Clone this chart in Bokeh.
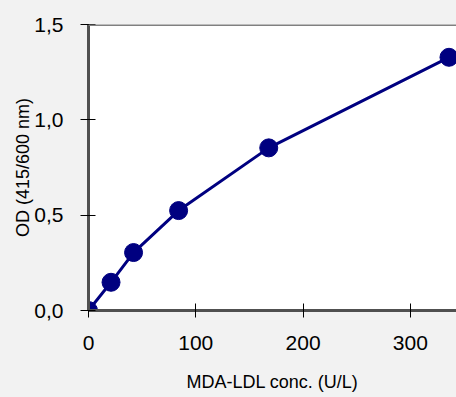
from bokeh.plotting import figure
from bokeh.models import FixedTicker, CustomJSTickFormatter, Span, Range1d
from bokeh.embed import file_html
from bokeh.resources import INLINE

conc = [0, 21, 42, 84, 168, 336]
od = [0.0, 0.148, 0.304, 0.524, 0.853, 1.328]
x_ticks = [0, 100, 200, 300]
y_ticks = [0.0, 0.5, 1.0, 1.5]

BG = "#f2f2f2"
NAVY = "#000080"

p = figure(width=456, height=397, output_backend="svg", toolbar_location=None,
           x_range=Range1d(0, 343), y_range=Range1d(0, 1.5),
           min_border_left=88, min_border_right=0, min_border_top=24, min_border_bottom=87)
p.border_fill_color = BG
p.background_fill_color = "white"
p.outline_line_color = None
p.grid.visible = False

p.line(conc, od, line_color=NAVY, line_width=3)
p.scatter(conc, od, size=18, fill_color=NAVY, line_color=NAVY)

p.add_layout(Span(location=1.5, dimension="width", line_color="#808080", line_width=3))

for ax in (p.xaxis[0], p.yaxis[0]):
    ax.axis_line_color = "#505050"
    ax.axis_line_width = 3
    ax.major_tick_line_color = "black"
    ax.major_tick_line_width = 1
    ax.minor_tick_line_color = None
    ax.major_tick_in = 7
    ax.major_label_text_font = "Liberation Sans"
    ax.major_label_text_font_size = "21px"
    ax.major_label_text_color = "black"
    ax.axis_label_text_font = "Liberation Sans"
    ax.axis_label_text_font_size = "18px"
    ax.axis_label_text_font_style = "normal"
    ax.axis_label_text_color = "black"

p.xaxis.ticker = FixedTicker(ticks=x_ticks)
p.yaxis.ticker = FixedTicker(ticks=y_ticks)
p.xaxis.major_tick_out = 7
p.yaxis.major_tick_out = 8
p.xaxis.major_label_standoff = 18
p.yaxis.major_label_standoff = 17
p.yaxis.formatter = CustomJSTickFormatter(code="return tick.toFixed(1).replace('.', ',');")
p.xaxis.axis_label = "MDA-LDL conc. (U/L)"
p.yaxis.axis_label = "OD (415/600 nm)"
p.xaxis.axis_label_standoff = 19
p.yaxis.axis_label_standoff = -2

template = "{% block preamble %}<style>html,body{background:#f2f2f2;margin:0;padding:0;}</style>{% endblock %}"
open("out.html", "w").write(file_html(p, INLINE, template=template))
